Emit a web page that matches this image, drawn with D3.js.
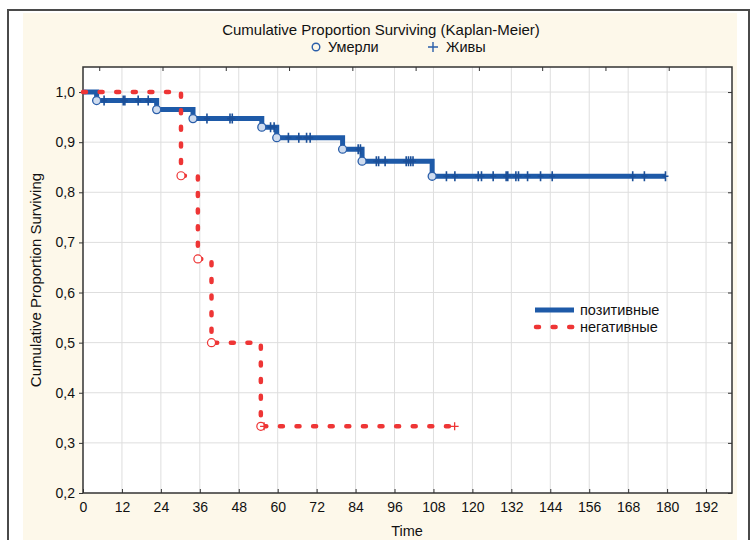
<!DOCTYPE html>
<html><head><meta charset="utf-8">
<script src="https://cdn.jsdelivr.net/npm/d3@7"></script>
<style>body{margin:0;background:#fff}svg{display:block}text{font-family:"Liberation Sans",Arial,sans-serif;fill:#111}</style>
</head><body>
<script>
const xTicks = [0,12,24,36,48,60,72,84,96,108,120,132,144,156,168,180,192];
const yTicks = [0.2,0.3,0.4,0.5,0.6,0.7,0.8,0.9,1.0];
const topTicks = [5,24.5,44,63.5,83,102.5,122,141.5,161,180.5];
const posTimes = [0,4.2,22.7,33.9,55.1,59.7,80.0,86.0,107.6];
const posSurv  = [1.0,0.983,0.965,0.947,0.930,0.909,0.886,0.862,0.832];
const posEnd = 179.5;
const posCensored = [6.5,12.4,12.9,17.0,20.1,38.2,45.3,46.0,57.8,58.9,63.3,66.5,68.9,70.0,84.8,85.5,90.4,91.1,93.1,99.6,100.3,101.0,101.7,112.0,114.6,121.8,122.8,126.4,130.4,130.9,133.4,134.2,137.0,141.0,144.6,169.4,173.0,179.5];
const negTimes = [0,30.2,35.4,39.6,54.8];
const negSurv  = [1.0,0.833,0.667,0.5,0.333];
const negEnd = 113.6;
const negCensored = [55.8,113.6];
const seriesNames = ["позитивные","негативные"];

const W=755,H=540;
const svg=d3.select("body").append("svg").attr("width",W).attr("height",H);
svg.append("rect").attr("x",23).attr("y",13).attr("width",714).attr("height",H).attr("fill","#fdf8ea");
svg.append("rect").attr("x",8).attr("y",10).attr("width",741).attr("height",H+20).attr("fill","none").attr("stroke","#4a4a4a").attr("stroke-width",2);

const x=d3.scaleLinear().domain([0,200]).range([83,732]);
const y=d3.scaleLinear().domain([0.2,1.05]).range([493,67]);
const L=x.range()[0],R=x.range()[1],T=y.range()[1],B=y.range()[0];

svg.append("rect").attr("x",L).attr("y",T).attr("width",R-L).attr("height",B-T).attr("fill","#fff");
svg.append("g").selectAll("line").data(xTicks.filter(d=>d>0)).join("line")
 .attr("x1",d=>x(d)).attr("x2",d=>x(d)).attr("y1",T).attr("y2",B).attr("stroke","#dedede").attr("stroke-width",1);
svg.append("g").selectAll("line").data(yTicks.filter(d=>d>0.2)).join("line")
 .attr("x1",L).attr("x2",R).attr("y1",d=>y(d)).attr("y2",d=>y(d)).attr("stroke","#dedede").attr("stroke-width",1);

const fmt=d=>d3.format(".1f")(d).replace(".",",");
const gx=svg.append("g").attr("transform",`translate(0,${B})`).call(d3.axisBottom(x).tickValues(xTicks).tickSize(-4).tickPadding(9).tickFormat(d3.format("d")));
const gy=svg.append("g").attr("transform",`translate(${L},0)`).call(d3.axisLeft(y).tickValues(yTicks).tickSize(4).tickPadding(4).tickFormat(fmt));
const gt=svg.append("g").attr("transform",`translate(0,${T})`).call(d3.axisTop(x).tickValues(topTicks).tickSize(-4).tickFormat(""));
const gr=svg.append("g").attr("transform",`translate(${R},0)`).call(d3.axisRight(y).tickValues(yTicks).tickSize(-4).tickFormat(""));
[gx,gy,gt,gr].forEach(g=>{g.select(".domain").remove();g.selectAll("line").attr("stroke","#333");g.selectAll("text").attr("font-size",14).attr("font-family","Liberation Sans, Arial").attr("fill","#111");});
svg.append("rect").attr("x",L).attr("y",T).attr("width",R-L).attr("height",B-T).attr("fill","none").attr("stroke","#333").attr("stroke-width",1.5);

const step=d3.line().x(d=>x(d[0])).y(d=>y(d[1])).curve(d3.curveStepAfter);
const posPts=posTimes.map((t,i)=>[t,posSurv[i]]).concat([[posEnd,posSurv[posSurv.length-1]]]);
const negPts=negTimes.map((t,i)=>[t,negSurv[i]]).concat([[negEnd,negSurv[negSurv.length-1]]]);
function survAt(times,surv,t){let s=surv[0];times.forEach((tt,i)=>{if(t>=tt)s=surv[i];});return s;}

const blue="#1e5aa8", red="#ee3535";
svg.append("path").attr("d",step(posPts)).attr("fill","none").attr("stroke",blue).attr("stroke-width",5);
svg.append("g").selectAll("path").data(posCensored).join("path")
 .attr("d",d=>{const cx=x(d),cy=y(survAt(posTimes,posSurv,d));return `M${cx},${cy-5}V${cy+5}M${cx-3},${cy}H${cx+3}`;})
 .attr("stroke","#1b4f98").attr("stroke-width",1.6);
svg.append("g").selectAll("circle").data(posTimes.slice(1).map((t,i)=>[t,posSurv[i+1]])).join("circle")
 .attr("cx",d=>x(d[0])).attr("cy",d=>y(d[1])).attr("r",4).attr("fill","#cfdcef").attr("stroke","#2a5ea9").attr("stroke-width",1.3);

svg.append("path").attr("d",step(negPts)).attr("fill","none").attr("stroke",red).attr("stroke-width",4.5)
 .attr("stroke-dasharray","3,13.6").attr("stroke-linecap","round");
svg.append("g").selectAll("circle").data(negTimes.slice(1).map((t,i)=>[t,negSurv[i+1]])).join("circle")
 .attr("cx",d=>x(d[0])).attr("cy",d=>y(d[1])).attr("r",4).attr("fill","#fff").attr("stroke",red).attr("stroke-width",1.2);
svg.append("g").selectAll("path").data(negCensored).join("path")
 .attr("d",d=>{const cx=x(d)+(d===negEnd?3:0),cy=y(survAt(negTimes,negSurv,d));return `M${cx},${cy-4}V${cy+4}M${cx-4},${cy}H${cx+4}`;})
 .attr("stroke",red).attr("stroke-width",1.3);

svg.append("text").attr("x",381).attr("y",35).attr("text-anchor","middle").attr("font-size",15).text("Cumulative Proportion Surviving (Kaplan-Meier)");
const lg=svg.append("g");
lg.append("circle").attr("cx",316).attr("cy",47).attr("r",3.8).attr("fill","none").attr("stroke","#2a5ea9").attr("stroke-width",1.4);
lg.append("text").attr("x",328).attr("y",52).attr("font-size",14.5).text("Умерли");
lg.append("path").attr("d","M433,42V52M428,47H438").attr("stroke","#2a5ea9").attr("stroke-width",1.4);
lg.append("text").attr("x",446).attr("y",52).attr("font-size",14.5).text("Живы");

svg.append("text").attr("transform","translate(41,280) rotate(-90)").attr("text-anchor","middle").attr("font-size",15).text("Cumulative Proportion Surviving");
svg.append("text").attr("x",407).attr("y",536).attr("text-anchor","middle").attr("font-size",14.5).text("Time");

const il=svg.append("g");
il.append("line").attr("x1",535).attr("x2",574).attr("y1",310).attr("y2",310).attr("stroke",blue).attr("stroke-width",5);
il.append("text").attr("x",580).attr("y",315).attr("font-size",14.5).text(seriesNames[0]);
il.append("line").attr("x1",536).attr("x2",575).attr("y1",327).attr("y2",327).attr("stroke",red).attr("stroke-width",4.5).attr("stroke-dasharray","3,13.6").attr("stroke-linecap","round");
il.append("text").attr("x",580).attr("y",332).attr("font-size",14.5).text(seriesNames[1]);
</script>
</body></html>
